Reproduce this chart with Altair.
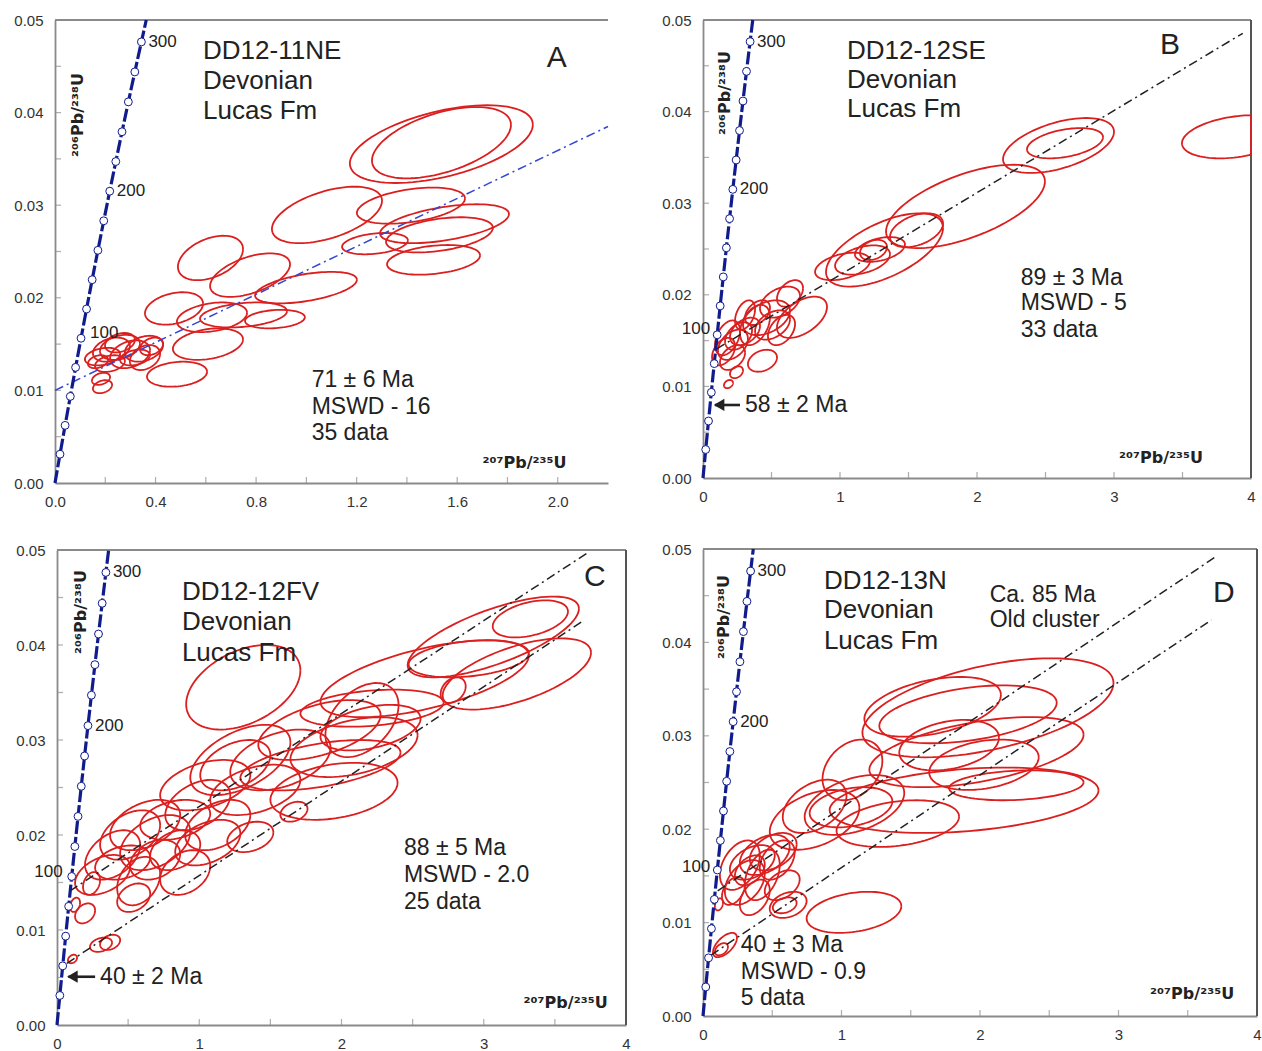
import numpy as np
import pandas as pd
import altair as alt

W, H = 1262, 1051
FONT = "Liberation Sans"
TFONT = "DejaVu Sans"
RED = "#db1f1f"
NAVY = "#101c8c"
INK = "#222222"
AXG = "#8a8a8a"

# ---------------- concordia (ages in Ma, 207Pb/235U, 206Pb/238U) ----------------
conc_age = [0, 20, 40, 60, 80, 100, 120, 140, 160, 180, 200, 220, 240, 260, 280, 300, 314.5]
conc_x = [0, 0.019892, 0.040180, 0.060872, 0.081975, 0.103497, 0.125447, 0.147833, 0.170664,
          0.193948, 0.217696, 0.241915, 0.266640, 0.291830, 0.317529, 0.343738, 0.363070]
conc_y = [0, 0.003107, 0.006224, 0.009351, 0.012487, 0.015633, 0.018789, 0.021955, 0.025131,
          0.028316, 0.031511, 0.034717, 0.037932, 0.041157, 0.044392, 0.047637, 0.050000]
marker_ages = [20, 40, 60, 80, 100, 120, 140, 160, 180, 200, 220, 240, 260, 280, 300]
age_labels_hi = ["200", "300"]
age_label_lo = "100"

y_labels = [0.0, 0.01, 0.02, 0.03, 0.04, 0.05]
y_ticks = [0.005, 0.01, 0.015, 0.02, 0.025, 0.03, 0.035, 0.04, 0.045]
xA_labels = [0.0, 0.4, 0.8, 1.2, 1.6, 2.0]
xA_ticks = [0.2, 0.4, 0.6, 0.8, 1.0, 1.2, 1.4, 1.6, 1.8, 2.0]
x4_labels = [0, 1, 2, 3, 4]
x4_ticks = [0.5, 1.0, 1.5, 2.0, 2.5, 3.0, 3.5]

# ---------------- ellipses: x range, y range, error correlation ----------------
A_xlo = [1.173, 1.261, 0.863, 1.201, 1.293, 1.317, 1.142, 1.321, 0.796, 0.489, 0.617, 0.358, 0.485, 0.756, 0.469,
         0.366, 0.577, 0.119, 0.151, 0.179, 0.219, 0.278, 0.298, 0.159, 0.131, 0.199, 0.338, 0.147, 0.151, 0.259]
A_xhi = [1.901, 1.814, 1.301, 1.631, 1.806, 1.742, 1.404, 1.691, 1.201, 0.748, 0.935, 0.589, 0.764, 0.994, 0.748,
         0.605, 0.923, 0.259, 0.298, 0.338, 0.378, 0.430, 0.418, 0.278, 0.211, 0.318, 0.430, 0.219, 0.227, 0.378]
A_ylo = [0.0324, 0.0329, 0.0259, 0.0280, 0.0259, 0.0249, 0.0247, 0.0225, 0.0194, 0.0219, 0.0201, 0.0171, 0.0163, 0.0167, 0.0133,
         0.0104, 0.0168, 0.0127, 0.0131, 0.0133, 0.0124, 0.0131, 0.0122, 0.0120, 0.0124, 0.0141, 0.0138, 0.0106, 0.0097, 0.0127]
A_yhi = [0.0408, 0.0406, 0.0320, 0.0319, 0.0301, 0.0287, 0.0270, 0.0257, 0.0228, 0.0267, 0.0248, 0.0206, 0.0195, 0.0187, 0.0167,
         0.0131, 0.0195, 0.0146, 0.0157, 0.0160, 0.0154, 0.0159, 0.0149, 0.0138, 0.0138, 0.0162, 0.0157, 0.0119, 0.0111, 0.0144]
A_rho = [0.5, 0.5, 0.5, 0.4, 0.5, 0.4, 0.3, 0.3, 0.5, 0.4, 0.5, 0.3, 0.3, 0.2, 0.3,
         0.2, 0.3, 0.3, 0.3, 0.3, 0.3, 0.3, 0.3, 0.3, 0.3, 0.3, 0.3, 0.3, 0.3, 0.3]

B_xlo = [1.336, 2.190, 2.365, 3.496, 0.898, 1.365, 1.109, 0.818, 0.964, 1.146, 0.540, 0.416, 0.292, 0.328,
         0.197, 0.153, 0.270, 0.380, 0.088, 0.109, 0.161, 0.066, 0.197, 0.307, 0.474, 0.540, 0.124, 0.234]
B_xhi = [2.496, 3.000, 2.920, 4.285, 1.752, 1.752, 1.474, 1.219, 1.365, 1.343, 0.905, 0.708, 0.635, 0.540,
         0.292, 0.219, 0.489, 0.635, 0.270, 0.328, 0.358, 0.234, 0.416, 0.489, 0.672, 0.730, 0.307, 0.380]
B_ylo = [0.0251, 0.0333, 0.0349, 0.0349, 0.0209, 0.0252, 0.0236, 0.0216, 0.0222, 0.0238, 0.0153, 0.0175, 0.0156, 0.0116,
         0.0109, 0.0098, 0.0145, 0.0151, 0.0134, 0.0129, 0.0140, 0.0123, 0.0145, 0.0167, 0.0145, 0.0187, 0.0118, 0.0162]
B_yhi = [0.0342, 0.0393, 0.0382, 0.0396, 0.0289, 0.0289, 0.0263, 0.0246, 0.0254, 0.0260, 0.0198, 0.0209, 0.0194, 0.0140,
         0.0122, 0.0107, 0.0189, 0.0183, 0.0172, 0.0162, 0.0170, 0.0153, 0.0175, 0.0194, 0.0178, 0.0216, 0.0145, 0.0194]
B_rho = [0.6, 0.5, 0.4, 0.3, 0.6, 0.4, 0.4, 0.4, 0.4, 0.3, 0.5, 0.4, 0.4, 0.3,
         0.3, 0.3, 0.4, 0.4, 0.4, 0.4, 0.4, 0.4, 0.4, 0.4, 0.4, 0.4, 0.4, 0.4]

C_xlo = [3.063, 2.465, 2.711, 2.472, 2.697, 1.852, 1.887, 1.711, 1.641, 1.500, 1.415, 1.852, 1.218, 1.289,
         0.908, 0.937, 1.007, 0.725, 1.077, 0.761, 1.197, 1.570, 0.127, 0.197, 0.303, 0.373, 0.444, 0.585,
         0.268, 0.514, 0.655, 0.725, 0.423, 0.831, 0.901, 0.092, 0.127, 0.183, 0.232, 0.303, 0.077, 0.423]
C_xhi = [3.592, 3.669, 3.754, 3.317, 2.873, 3.317, 2.401, 2.718, 2.535, 2.394, 2.275, 2.556, 1.923, 2.415,
         1.711, 1.641, 1.500, 1.359, 1.711, 1.218, 1.521, 1.761, 0.514, 0.585, 0.725, 0.866, 0.937, 1.077,
         0.655, 0.866, 1.007, 1.077, 0.725, 1.289, 1.359, 0.162, 0.268, 0.303, 0.387, 0.444, 0.141, 0.655]
C_ylo = [0.0408, 0.0366, 0.0332, 0.0366, 0.0339, 0.0324, 0.0282, 0.0314, 0.0261, 0.0216, 0.0279, 0.0289, 0.0247, 0.0247,
         0.0311, 0.0242, 0.0247, 0.0226, 0.0221, 0.0205, 0.0182, 0.0214, 0.0137, 0.0153, 0.0174, 0.0184, 0.0163, 0.0195,
         0.0153, 0.0153, 0.0163, 0.0137, 0.0126, 0.0168, 0.0184, 0.0119, 0.0107, 0.0137, 0.0077, 0.0079, 0.0065, 0.0119]
C_yhi = [0.0447, 0.0451, 0.0407, 0.0405, 0.0366, 0.0405, 0.0360, 0.0353, 0.0324, 0.0276, 0.0342, 0.0337, 0.0311, 0.0300,
         0.0400, 0.0316, 0.0300, 0.0279, 0.0274, 0.0258, 0.0214, 0.0235, 0.0179, 0.0205, 0.0226, 0.0237, 0.0221, 0.0237,
         0.0189, 0.0195, 0.0205, 0.0184, 0.0177, 0.0216, 0.0237, 0.0134, 0.0128, 0.0161, 0.0092, 0.0095, 0.0074, 0.0149]
C_rho = [0.4, 0.7, 0.6, 0.3, 0.3, 0.6, 0.4, 0.3, 0.4, 0.3, 0.5, 0.4, 0.4, 0.5,
         0.4, 0.5, 0.4, 0.4, 0.4, 0.4, 0.3, 0.3, 0.4, 0.4, 0.4, 0.4, 0.4, 0.3,
         0.3, 0.3, 0.3, 0.3, 0.3, 0.4, 0.4, 0.3, 0.3, 0.3, 0.3, 0.3, 0.3, 0.3]

D_xlo = [1.151, 1.165, 1.273, 1.201, 0.914, 0.863, 0.734, 0.482, 0.748, 0.482, 0.504, 0.072, 0.086, 0.086, 0.576, 0.770,
         0.964, 1.417, 1.633, 1.777, 0.122, 0.194, 0.266, 0.338, 0.158, 0.302, 0.410, 0.230, 0.137, 0.266, 0.446]
D_xhi = [2.964, 2.151, 2.554, 2.748, 2.856, 1.295, 1.453, 1.129, 1.432, 0.748, 0.676, 0.245, 0.180, 0.144, 1.036, 1.367,
         1.849, 2.137, 2.424, 2.748, 0.410, 0.518, 0.626, 0.676, 0.446, 0.554, 0.662, 0.446, 0.302, 0.482, 0.698]
D_ylo = [0.0277, 0.0299, 0.0292, 0.0245, 0.0196, 0.0231, 0.0194, 0.0178, 0.0089, 0.0105, 0.0110, 0.0063, 0.0065, 0.0113, 0.0196, 0.0202,
         0.0181, 0.0263, 0.0242, 0.0231, 0.0135, 0.0146, 0.0151, 0.0156, 0.0119, 0.0124, 0.0146, 0.0140, 0.0119, 0.0108, 0.0124]
D_yhi = [0.0383, 0.0363, 0.0354, 0.0320, 0.0266, 0.0296, 0.0258, 0.0242, 0.0133, 0.0133, 0.0127, 0.0089, 0.0078, 0.0126, 0.0253, 0.0245,
         0.0231, 0.0317, 0.0296, 0.0263, 0.0188, 0.0183, 0.0194, 0.0196, 0.0167, 0.0178, 0.0188, 0.0172, 0.0149, 0.0146, 0.0156]
D_rho = [0.5, 0.4, 0.4, 0.5, 0.3, 0.3, 0.4, 0.4, 0.3, 0.3, 0.3, 0.6, 0.4, 0.3, 0.4, 0.3,
         0.3, 0.3, 0.3, 0.2, 0.4, 0.4, 0.4, 0.4, 0.4, 0.4, 0.4, 0.4, 0.4, 0.4, 0.4]

# ---------------- regression (discordia) lines: endpoints ----------------
A_reg_x = [[0.0, 2.2]]
A_reg_y = [[0.0100, 0.0385]]
B_reg_x = [[0.10, 3.94]]
B_reg_y = [[0.0141, 0.04855]]
C_reg_x = [[0.09, 3.74], [0.07, 3.69]]
C_reg_y = [[0.0141, 0.0498], [0.0065, 0.04245]]
D_reg_x = [[0.106, 3.71], [0.058, 3.67]]
D_reg_y = [[0.0134, 0.04925], [0.00653, 0.0424]]

# ---------------- text annotations ----------------
A_name = ["DD12-11NE", "Devonian", "Lucas Fm"]
A_name_x, A_name_y = 0.589, [0.0467, 0.0434, 0.0402]
A_stats = ["71 ± 6 Ma", "MSWD - 16", "35 data"]
A_stats_x, A_stats_y = 1.021, [0.01112, 0.00821, 0.00540]
A_letter = ("A", 1.956, 0.0459)

B_name = ["DD12-12SE", "Devonian", "Lucas Fm"]
B_name_x, B_name_y = 1.051, [0.04662, 0.04345, 0.04028]
B_stats = ["89 ± 3 Ma", "MSWD - 5", "33 data"]
B_stats_x, B_stats_y = 2.319, [0.02183, 0.01910, 0.01616]
B_letter = ("B", 3.336, 0.04727)
B_arrow = ("58 ± 2 Ma", 0.307, 0.00797, 0.088, 0.27)

C_name = ["DD12-12FV", "Devonian", "Lucas Fm"]
C_name_x, C_name_y = 0.878, [0.04558, 0.04242, 0.03916]
C_stats = ["88 ± 5 Ma", "MSWD - 2.0", "25 data"]
C_stats_x, C_stats_y = 2.439, [0.01863, 0.01579, 0.01295]
C_letter = ("C", 3.704, 0.04716)
C_arrow = ("40 ± 2 Ma", 0.303, 0.00508, 0.08, 0.268)

D_name = ["DD12-13N", "Devonian", "Lucas Fm"]
D_name_x, D_name_y = 0.873, [0.04657, 0.04347, 0.04015]
D_stats = ["40 ± 3 Ma", "MSWD - 0.9", "5 data"]
D_stats_x, D_stats_y = 0.273, [0.00760, 0.00471, 0.00193]
D_letter = ("D", 3.683, 0.04529)
D_extra = ["Ca. 85 Ma", "Old cluster"]
D_extra_x, D_extra_y = 2.070, [0.04507, 0.04240]

X_TITLE = "²⁰⁷Pb/²³⁵U"
Y_TITLE = "²⁰⁶Pb/²³⁸U"
xt_pos = {"A": (2.035, 0.00216), "B": (3.650, 0.00218), "C": (3.871, 0.00232), "D": (3.835, 0.00236)}
yt_pos = {"A": (0.0915, 0.03974), "B": (0.161, 0.04203), "C": (0.169, 0.04347), "D": (0.151, 0.04272)}


def ellipse_frame(xlo, xhi, ylo, yhi, rho, n=91):
    assert len(xlo) == len(xhi) == len(ylo) == len(yhi) == len(rho)
    t = np.linspace(0, 2 * np.pi, n)
    frames = []
    for i, (a, b, c, d, r) in enumerate(zip(xlo, xhi, ylo, yhi, rho)):
        cx, rx = (a + b) / 2, (b - a) / 2
        cy, ry = (c + d) / 2, (d - c) / 2
        s = np.sqrt(1 - r * r)
        frames.append(pd.DataFrame({"id": i, "k": np.arange(n),
                                    "x": cx + rx * np.cos(t),
                                    "y": cy + ry * (r * np.cos(t) + s * np.sin(t))}))
    return pd.concat(frames, ignore_index=True)


conc_df = pd.DataFrame({"age": conc_age, "x": conc_x, "y": conc_y})
mark_df = conc_df[conc_df["age"].isin(marker_ages)]
lab_hi_df = conc_df[conc_df["age"].isin([int(v) for v in age_labels_hi])].assign(t=lambda d: d["age"].astype(int).astype(str))
lab_lo_df = conc_df[conc_df["age"] == int(age_label_lo)].assign(t=age_label_lo)

PANELS = [
    dict(key="A", xdom=[0, 2.2], xr=[55, 608], yr=[483, 20], xlab=xA_labels, xtick=xA_ticks, xfmt=".1f",
         right=False, ell=(A_xlo, A_xhi, A_ylo, A_yhi, A_rho), regx=A_reg_x, regy=A_reg_y, regc="#3347d0",
         name=(A_name, A_name_x, A_name_y), stats=(A_stats, A_stats_x, A_stats_y), letter=A_letter,
         lo=dict(align="left", dx=9, dy=-5)),
    dict(key="B", xdom=[0, 4], xr=[703, 1251], yr=[478, 20], xlab=x4_labels, xtick=x4_ticks, xfmt="d",
         right=True, ell=(B_xlo, B_xhi, B_ylo, B_yhi, B_rho), regx=B_reg_x, regy=B_reg_y, regc=INK,
         name=(B_name, B_name_x, B_name_y), stats=(B_stats, B_stats_x, B_stats_y), letter=B_letter,
         arrow=B_arrow, lo=dict(align="right", dx=-7, dy=-6)),
    dict(key="C", xdom=[0, 4], xr=[57, 626], yr=[1025, 550], xlab=x4_labels, xtick=x4_ticks, xfmt="d",
         right=True, ell=(C_xlo, C_xhi, C_ylo, C_yhi, C_rho), regx=C_reg_x, regy=C_reg_y, regc=INK,
         name=(C_name, C_name_x, C_name_y), stats=(C_stats, C_stats_x, C_stats_y), letter=C_letter,
         arrow=C_arrow, lo=dict(align="right", dx=-9, dy=-4)),
    dict(key="D", xdom=[0, 4], xr=[703, 1257], yr=[1016, 549], xlab=x4_labels, xtick=x4_ticks, xfmt="d",
         right=True, ell=(D_xlo, D_xhi, D_ylo, D_yhi, D_rho), regx=D_reg_x, regy=D_reg_y, regc=INK,
         name=(D_name, D_name_x, D_name_y), stats=(D_stats, D_stats_x, D_stats_y), letter=D_letter,
         extra=(D_extra, D_extra_x, D_extra_y), lo=dict(align="right", dx=-7, dy=-3)),
]


def build_panel(P):
    xs = alt.Scale(domain=P["xdom"], range=P["xr"], nice=False, zero=False, clamp=True)
    ys = alt.Scale(domain=[0, 0.05], range=P["yr"], nice=False, zero=False, clamp=True)
    common = dict(ticks=False, tickSize=0, grid=False, domainColor=AXG, domainWidth=1.8,
                  labelFont=FONT, labelFontSize=15, labelColor="#333333", labelFlush=False,
                  labelOverlap=False, title="")
    xa = alt.Axis(orient="bottom", offset=-(H - P["yr"][0]), values=P["xlab"], format=P["xfmt"],
                  labelPadding=11, **common)
    ya = alt.Axis(orient="left", offset=-P["xr"][0], values=y_labels, format=".2f",
                  labelPadding=12, **common)

    def enc(xf="x", yf="y"):
        return dict(x=alt.X(xf, type="quantitative", scale=xs, axis=xa),
                    y=alt.Y(yf, type="quantitative", scale=ys, axis=ya))

    layers = []
    # borders
    top_df = pd.DataFrame({"x": [P["xdom"][0]], "x2": [P["xdom"][1]], "y": [0.05]})
    layers.append(alt.Chart(top_df).mark_rule(color=AXG, strokeWidth=1.8).encode(
        **enc(), x2=alt.X2("x2")))
    if P["right"]:
        r_df = pd.DataFrame({"x": [P["xdom"][1]], "y": [0.0], "y2": [0.05]})
        layers.append(alt.Chart(r_df).mark_rule(color="#555555", strokeWidth=2).encode(
            **enc(), y2=alt.Y2("y2")))
    # inward ticks
    yt_df = pd.DataFrame({"x": 0.0, "y": y_ticks})
    layers.append(alt.Chart(yt_df).mark_tick(orient="horizontal", size=6, thickness=1.2,
                                             color=AXG, xOffset=3).encode(**enc()))
    xt_df = pd.DataFrame({"x": P["xtick"], "y": 0.0})
    layers.append(alt.Chart(xt_df).mark_tick(orient="vertical", size=6, thickness=1.2,
                                             color=AXG, yOffset=-3).encode(**enc()))
    # ellipses
    e_df = ellipse_frame(*P["ell"])
    layers.append(alt.Chart(e_df).mark_line(color=RED, strokeWidth=1.8).encode(
        **enc(), detail="id:N", order="k:Q"))
    # regression lines
    rows = []
    for i, (xx, yy) in enumerate(zip(P["regx"], P["regy"])):
        for j in range(2):
            rows.append({"id": i, "k": j, "x": xx[j], "y": yy[j]})
    layers.append(alt.Chart(pd.DataFrame(rows)).mark_line(
        color=P["regc"], strokeWidth=1.5, strokeDash=[9, 4, 2, 4]).encode(
        **enc(), detail="id:N", order="k:Q"))
    # concordia
    layers.append(alt.Chart(conc_df).mark_line(color=NAVY, strokeWidth=3.2, strokeDash=[13, 3]).encode(
        **enc(), order="age:Q"))
    layers.append(alt.Chart(mark_df).mark_point(shape="circle", filled=True, fill="white", stroke=NAVY,
                                                strokeWidth=1.0, size=62, opacity=1).encode(**enc()))
    layers.append(alt.Chart(lab_hi_df).mark_text(align="left", baseline="middle", dx=7, font=FONT,
                                                 fontSize=17, color=INK).encode(**enc(), text="t:N"))
    lo = P["lo"]
    layers.append(alt.Chart(lab_lo_df).mark_text(align=lo["align"], baseline="middle", dx=lo["dx"], dy=lo["dy"],
                                                 font=FONT, fontSize=17, color=INK).encode(**enc(), text="t:N"))
    # texts
    def text_layer(lines, x, ys_, size, align="left", weight="normal", font=FONT):
        df = pd.DataFrame({"t": lines, "x": x, "y": ys_})
        return alt.Chart(df).mark_text(align=align, baseline="middle", font=font, fontSize=size,
                                       fontWeight=weight, color=INK).encode(**enc(), text="t:N")

    nm, nx, ny = P["name"]
    layers.append(text_layer(nm, nx, ny, 26))
    st, sx, sy = P["stats"]
    layers.append(text_layer(st, sx, sy, 23))
    L, lx, ly = P["letter"]
    layers.append(text_layer([L], lx, [ly], 30))
    if "extra" in P:
        ex, exx, exy = P["extra"]
        layers.append(text_layer(ex, exx, exy, 23))
    if "arrow" in P:
        at, ax_, ay_, tip, tail = P["arrow"]
        layers.append(text_layer([at], ax_, [ay_], 23))
        ar_df = pd.DataFrame({"x": [tip], "x2": [tail], "y": [ay_]})
        layers.append(alt.Chart(ar_df).mark_rule(color=INK, strokeWidth=2.6).encode(
            **enc(), x2=alt.X2("x2")))
        layers.append(alt.Chart(ar_df).mark_point(shape="triangle-left", filled=True, color=INK, size=150,
                                                  opacity=1, xOffset=4).encode(**enc()))
    # axis titles
    tx, ty = xt_pos[P["key"]]
    layers.append(text_layer([X_TITLE], tx, [ty], 16, align="right", weight="bold", font=TFONT))
    qx, qy = yt_pos[P["key"]]
    yt_df2 = pd.DataFrame({"t": [Y_TITLE], "x": [qx], "y": [qy]})
    layers.append(alt.Chart(yt_df2).mark_text(align="center", baseline="middle", angle=270, font=TFONT,
                                              fontSize=16, fontWeight="bold", color=INK).encode(
        **enc(), text="t:N"))
    return alt.layer(*layers)


panels = [build_panel(P) for P in PANELS]

chart = alt.layer(*panels).resolve_scale(
    x="independent", y="independent"
).resolve_axis(
    x="independent", y="independent"
).properties(
    width=W, height=H, autosize=alt.AutoSizeParams(type="none"), padding=0, background="white"
).configure_view(strokeWidth=0)

chart.save("out.html", embed_options={"renderer": "svg", "actions": False})
